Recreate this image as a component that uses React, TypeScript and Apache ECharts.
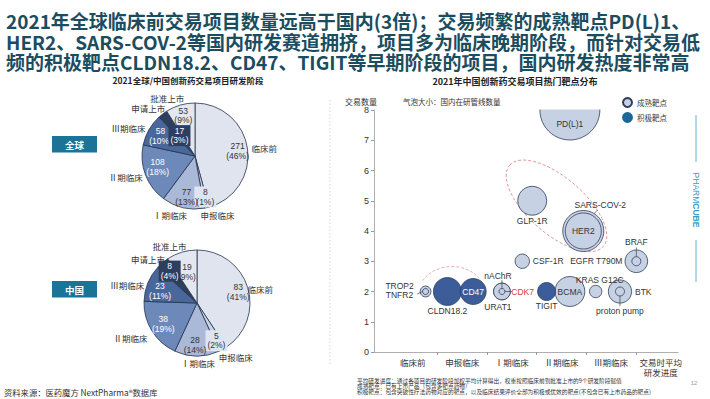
import React, { useEffect, useRef } from 'react';
import * as echarts from 'echarts';

// ---------------- data ----------------
const stageNames = ['临床前', '申报临床', 'Ⅰ期临床', 'Ⅱ期临床', 'Ⅲ期临床', '申请上市', '批准上市'];
const globalStageDeals = [271, 8, 77, 108, 58, 17, 53];
const chinaStageDeals = [83, 5, 28, 38, 23, 8, 19];

const progressLabels = ['临床前', '申报临床', 'Ⅰ期临床', 'Ⅱ期临床', 'Ⅲ期临床', '交易时平均\n研发进度'];
const progressLabelValues = [1, 2, 3, 4, 5, 6];
const progressTickValues = [1.5, 2.5, 3.5, 4.5, 5.5];

const matureTargets = ['PD(L)1', 'GLP-1R', 'SARS-COV-2', 'HER2', 'CSF-1R', 'BRAF', 'EGFR T790M', 'TROP2', 'TNFR2', 'nAChR', 'URAT1', 'CDK7', 'BCMA', 'KRAS G12C', 'BTK', 'proton pump'];
const matureProgress = [4.17, 3.41, 4.44, 4.44, 3.21, 5.51, 5.51, 1.26, 1.26, 2.8, 2.8, 2.8, 4.17, 4.69, 5.18, 5.18];
const matureDeals = [8, 5, 4, 4, 3, 3, 3, 2, 2, 2, 2, 2, 2, 2, 2, 2];
const maturePipelines = [400, 93, 187, 144, 23, 57, 9, 13, 4, 31, 31, 4, 100, 17, 60, 9];

const activeTargets = ['CLDN18.2', 'CD47', 'TIGIT'];
const activeProgress = [1.7, 2.22, 3.7];
const activeDeals = [2, 2, 2];
const activePipelines = [87, 75, 36];

// ---------------- styles ----------------
const FONT = 'Arial, "Liberation Sans", "Noto Sans CJK SC", sans-serif';
const CJK = '"Noto Sans CJK SC", "Noto Sans", sans-serif';
const stageColors = ['#dfe4ee', '#c8d2e5', '#aab9d7', '#6c89b9', '#4a679b', '#2d3e5f', '#e3e8f0'];
const valueTextColors = ['#333', '#333', '#333', '#fff', '#fff', '#fff', '#333'];
const valueBoxColors: (string | undefined)[] = [undefined, '#dfe5ef', undefined, undefined, undefined, '#2d3e5f', undefined];
const globalNameShift = [[0, 0], [-7, 3.5], [5, 3.5], [1, 0.5], [0, 0], [5, -2.5], [5, -3]];
const chinaNameShift = [[-4, 2], [-6, 4], [1, 3], [-1, 5], [0, 3], [5, -1], [6, -2]];
const globalValueShift = [[1, 0.5], [1, 0], [1, 0], [2, -4], [2, 1], [10, 13], [0, 0]];
const chinaValueShift = [[1, 1], [-1, 1], [-2, 0], [2, -1], [2, 4], [0, 0], [2, 9]];

const bubbleLabelStyle: Record<string, any> = {
  'PD(L)1': { position: 'inside', offset: [0, 14] },
  'GLP-1R': { position: 'bottom', distance: 1 },
  'SARS-COV-2': { position: 'top', distance: 1, offset: [17, 0] },
  'HER2': { position: 'inside' },
  'CSF-1R': { position: 'right', distance: 3 },
  'BRAF': { position: 'top', distance: 3 },
  'EGFR T790M': { position: 'left', distance: 9 },
  'TROP2': { position: 'left', distance: 6, offset: [0, -6] },
  'TNFR2': { position: 'left', distance: 9, offset: [0, 3] },
  'nAChR': { position: 'top', distance: 2, offset: [-4, 0] },
  'URAT1': { position: 'bottom', distance: 2, offset: [-4, 0] },
  'CDK7': { position: 'right', distance: 6, color: '#d83b3b' },
  'BCMA': { position: 'inside' },
  'KRAS G12C': { position: 'top', distance: 1, offset: [4, 0] },
  'BTK': { position: 'right', distance: 3 },
  'proton pump': { position: 'bottom', distance: 10 },
  'CLDN18.2': { position: 'bottom', distance: 1 },
  'CD47': { position: 'inside', color: '#fff' },
  'TIGIT': { position: 'bottom', distance: 1 },
};

const sizeOf = (p: number) => Math.sqrt(p) * 3;

function midAngles(values: number[]) {
  const total = values.reduce((s, v) => s + v, 0);
  let cum = 0;
  return values.map((v) => {
    const m = ((cum + v / 2) / total) * Math.PI * 2;
    cum += v;
    return m;
  });
}

function pieSeries(values: number[], center: [number, number], nameShift: number[][], valueShift: number[][]) {
  const angles = midAngles(values);
  const [cx, cy] = center;
  const base = {
    type: 'pie',
    center,
    radius: [0, 53],
    startAngle: 90,
    clockwise: true,
    avoidLabelOverlap: false,
    silent: true,
    emphasis: { disabled: true },
  };
  return [
    {
      ...base,
      z: 2,
      itemStyle: { borderColor: '#24324c', borderWidth: 0.8 },
      label: { show: true, position: 'outside', formatter: '{b}', fontSize: 8.5, color: '#333', fontFamily: CJK },
      labelLine: { show: false, length: 0, length2: 0 },
      labelLayout: (p: any) => {
        const t = angles[p.dataIndex];
        const s = Math.sin(t);
        const sh = nameShift[p.dataIndex];
        return {
          x: cx + 57 * s + sh[0],
          y: cy - 57 * Math.cos(t) + sh[1],
          align: s > 0.05 ? 'left' : s < -0.05 ? 'right' : 'center',
          verticalAlign: 'middle',
        };
      },
      data: stageNames.map((n, i) => ({ name: n, value: values[i], itemStyle: { color: stageColors[i] } })),
    },
    {
      ...base,
      z: 3,
      itemStyle: { color: 'rgba(0,0,0,0)', borderWidth: 0 },
      label: {
        show: true,
        position: 'inside',
        fontSize: 8.5,
        lineHeight: 9.5,
        fontFamily: FONT,
        formatter: (p: any) => `${p.value}\n(${Math.round(p.percent)}%)`,
      },
      labelLine: { show: false },
      labelLayout: (p: any) => {
        const t = angles[p.dataIndex];
        const sh = valueShift[p.dataIndex];
        return {
          x: cx + 42 * Math.sin(t) + sh[0],
          y: cy - 42 * Math.cos(t) + sh[1],
          align: 'center',
          verticalAlign: 'middle',
        };
      },
      data: stageNames.map((n, i) => ({
        name: n,
        value: values[i],
        itemStyle: { color: 'rgba(0,0,0,0)' },
        label: {
          color: valueTextColors[i],
          backgroundColor: valueBoxColors[i] || 'transparent',
          padding: valueBoxColors[i] ? [1, 2] : 0,
        },
      })),
    },
  ];
}

function bubbleData(names: string[], prog: number[], deals: number[], pipes: number[]) {
  return names.map((n, i) => ({
    name: n,
    value: [prog[i], deals[i], pipes[i]],
    label: { show: true, ...bubbleLabelStyle[n] },
  }));
}

function baseOption(): any {
  const bubbleLabel = { fontSize: 8.5, color: '#333', fontFamily: FONT, formatter: '{b}' };
  return {
    animation: false,
    backgroundColor: '#fff',
    textStyle: { fontFamily: FONT },
    grid: { left: 374, right: 32, top: 110, bottom: 47, containLabel: false },
    legend: {
      left: 617,
      top: 92,
      orient: 'vertical',
      itemWidth: 9,
      itemHeight: 9,
      itemGap: 4,
      icon: 'circle',
      textStyle: { fontSize: 7.5, color: '#333', fontFamily: CJK },
      data: [
        { name: '成熟靶点' },
        { name: '积极靶点', itemStyle: { color: '#1b6898', borderColor: '#1b6898' } },
      ],
    },
    xAxis: {
      type: 'value',
      min: 0.22,
      max: 6.35,
      splitLine: { show: false },
      axisLine: { lineStyle: { color: '#9a9a9a', width: 0.8 } },
      axisTick: { show: true, length: 3, customValues: progressTickValues, lineStyle: { color: '#9a9a9a' } },
      axisLabel: {
        customValues: progressLabelValues,
        formatter: (v: number) => progressLabels[progressLabelValues.indexOf(Math.round(v))] || '',
        fontSize: 8.5,
        lineHeight: 10,
        color: '#333',
        fontFamily: CJK,
        margin: 5,
      },
    },
    yAxis: {
      type: 'value',
      min: 0,
      max: 8,
      interval: 1,
      name: '交易数量',
      nameLocation: 'end',
      nameGap: 5,
      nameTextStyle: { fontSize: 8, color: '#333', fontFamily: CJK, align: 'right', padding: [0, -3, 0, 0] },
      splitLine: { show: false },
      axisLine: { show: true, lineStyle: { color: '#9a9a9a', width: 0.8 } },
      axisTick: { show: true, length: 3, lineStyle: { color: '#9a9a9a' } },
      axisLabel: { fontSize: 9, color: '#333', margin: 5 },
    },
    series: [
      ...pieSeries(globalStageDeals, [195, 156], globalNameShift, globalValueShift),
      ...pieSeries(chinaStageDeals, [197, 303], chinaNameShift, chinaValueShift),
      {
        type: 'scatter',
        name: '成熟靶点',
        z: 3,
        symbolSize: (v: number[]) => sizeOf(v[2]),
        itemStyle: { color: '#c7d1e4', borderColor: '#2e3d58', borderWidth: 0.8, opacity: 1 },
        label: bubbleLabel,
        emphasis: { disabled: true },
        data: bubbleData(matureTargets, matureProgress, matureDeals, maturePipelines),
      },
      {
        type: 'scatter',
        name: '积极靶点',
        z: 4,
        symbolSize: (v: number[]) => sizeOf(v[2]),
        itemStyle: { color: '#3c5d99', borderColor: '#2a3f66', borderWidth: 0.8, opacity: 1 },
        label: bubbleLabel,
        emphasis: { disabled: true },
        data: bubbleData(activeTargets, activeProgress, activeDeals, activePipelines),
      },
    ],
  };
}

// annotation anchors in data space (progress, deals)
const hotZoneA = [3.9, 4.83];
const hotZoneB = [1.79, 1.95];

function buildGraphics(chart: any) {
  const px = (v: number[]) => chart.convertToPixel({ gridIndex: 0 }, v) as number[];
  const allNames = [...matureTargets, ...activeTargets];
  const allProg = [...matureProgress, ...activeProgress];
  const allDeals = [...matureDeals, ...activeDeals];
  const allPipes = [...maturePipelines, ...activePipelines];
  const at = (n: string) => {
    const i = allNames.indexOf(n);
    return px([allProg[i], allDeals[i]]);
  };
  const rad = (n: string) => sizeOf(allPipes[allNames.indexOf(n)]) / 2;
  const lineStyle = { stroke: '#444', lineWidth: 0.7 };
  const seg = (x1: number, y1: number, x2: number, y2: number) => ({
    type: 'line', silent: true, z: 10, shape: { x1, y1, x2, y2 }, style: lineStyle,
  });

  const els: any[] = [];
  // cover the part of bubbles lying above the plot area (clip at top of grid)
  const gridTop = px([1, 8])[1];
  const pd = at('PD(L)1');
  const pr = rad('PD(L)1') + 2;
  els.push({ type: 'rect', silent: true, z: 8, shape: { x: pd[0] - pr, y: gridTop - 40, width: pr * 2, height: 39.6 }, style: { fill: '#fff' } });

  const titleLines = [
    '2021年全球临床前交易项目数量远高于国内(3倍)；交易频繁的成熟靶点PD(L)1、',
    'HER2、SARS-COV-2等国内研发赛道拥挤，项目多为临床晚期阶段，而针对交易低',
    '频的积极靶点CLDN18.2、CD47、TIGIT等早期阶段的项目，国内研发热度非常高',
  ];
  titleLines.forEach((t, i) => {
    els.push({
      type: 'text', x: 6, y: 20.5 + i * 20.5, silent: true, z: 20,
      style: { text: t, fontSize: 19, fontWeight: 'bold', fill: '#1b4d5f', fontFamily: CJK, verticalAlign: 'middle', align: 'left' },
    });
  });
  els.push({ type: 'text', x: 188, y: 80, z: 20, style: { text: '2021全球/中国创新药交易项目研发阶段', fontSize: 8.5, fontWeight: 'bold', fill: '#222', fontFamily: CJK, align: 'center', verticalAlign: 'middle' } });
  els.push({ type: 'text', x: 515, y: 81, z: 20, style: { text: '2021年中国创新药交易项目热门靶点分布', fontSize: 9, fontWeight: 'bold', fill: '#222', fontFamily: CJK, align: 'center', verticalAlign: 'middle' } });
  // region tags
  [['全球', 136], ['中国', 281]].forEach(([t, y]) => {
    els.push({ type: 'rect', shape: { x: 52, y: y as number, width: 45, height: 16.5 }, style: { fill: '#1b7398' } });
    els.push({ type: 'text', x: 74.5, y: (y as number) + 8.5, z: 20, style: { text: t, fontSize: 9.5, fontWeight: 'bold', fill: '#fff', fontFamily: CJK, align: 'center', verticalAlign: 'middle' } });
  });
  // separator
  els.push({ type: 'line', shape: { x1: 330, y1: 100, x2: 330, y2: 366 }, style: { stroke: '#cfcfcf', lineWidth: 0.8, lineDash: [1.5, 2] } });
  // source
  els.push({ type: 'text', x: 4, y: 392, style: { text: '资料来源：医药魔方 NextPharma®数据库', fontSize: 8.3, fill: '#333', fontFamily: CJK, verticalAlign: 'middle' } });
  // bubble note
  els.push({ type: 'text', x: 403, y: 101, style: { text: '气泡大小：国内在研管线数量', fontSize: 7.5, fill: '#333', fontFamily: CJK, verticalAlign: 'middle' } });
  // footnotes
  [
    '平均研发进度：通过各项目的研发阶段加权平均计算得出，权重按照临床前到批准上市的9个研发阶段赋值',
    '成熟靶点：已有上市产品（包含多靶点药物）',
    '积极靶点：包含突破性疗法药物对应的靶点，以及临床结果评价全部为积极或优效的靶点(不包含已有上市药品的靶点)',
  ].forEach((t, i) => {
    els.push({ type: 'text', x: 357, y: 380 + i * 5.8, style: { text: t, fontSize: 5.7, fill: '#333', fontFamily: CJK, verticalAlign: 'middle' } });
  });
  els.push({ type: 'text', x: 694, y: 383, style: { text: '12', fontSize: 6, fill: '#999', fontFamily: FONT, align: 'center', verticalAlign: 'middle' } });
  // brand
  els.push({ type: 'line', shape: { x1: 696, y1: 115, x2: 696, y2: 162 }, style: { stroke: '#3b9ec6', lineWidth: 0.8 } });
  els.push({ type: 'line', shape: { x1: 696, y1: 240, x2: 696, y2: 282 }, style: { stroke: '#3b9ec6', lineWidth: 0.8 } });
  els.push({
    type: 'text', x: 696, y: 200, rotation: -Math.PI / 2,
    style: {
      text: '{a|PHARM}{b|CUBE}', align: 'center', verticalAlign: 'middle',
      rich: {
        a: { fontSize: 8.5, fill: '#3b9ec6', fontFamily: FONT },
        b: { fontSize: 8.5, fill: '#3b9ec6', fontWeight: 'bold', fontFamily: FONT },
      },
    },
  });

  // hot zones
  const ca = px(hotZoneA);
  els.push({ type: 'ellipse', x: ca[0], y: ca[1], rotation: -41 * Math.PI / 180, z: 0, silent: true, shape: { cx: 0, cy: 0, rx: 62, ry: 28 }, style: { fill: 'none', stroke: '#d98888', lineWidth: 0.8, lineDash: [3, 2] } });
  const cb = px(hotZoneB);
  els.push({ type: 'arc', x: cb[0], y: cb[1], scaleY: 0.8, z: 0, silent: true, shape: { cx: 0, cy: 0, r: 33, startAngle: 208 * Math.PI / 180, endAngle: 325 * Math.PI / 180, clockwise: true }, style: { fill: 'none', stroke: '#d98888', lineWidth: 0.8, lineDash: [3, 2] } });

  // leader lines
  let p = at('BRAF');
  els.push(seg(p[0], p[1] - rad('EGFR T790M'), p[0], p[1] - rad('BRAF') - 2.5));
  p = at('BTK');
  els.push(seg(p[0], p[1] + rad('proton pump'), p[0], p[1] + rad('BTK') + 3));
  p = at('nAChR');
  els.push(seg(p[0], p[1] - rad('CDK7'), p[0], p[1] - rad('nAChR') - 3));
  els.push(seg(p[0] + rad('CDK7'), p[1], p[0] + rad('nAChR') + 1.5, p[1]));
  p = at('TNFR2');
  els.push(seg(p[0] - rad('TNFR2'), p[1], p[0] - rad('TROP2') - 3, p[1] + 2.5));
  p = at('SARS-COV-2');
  const a = 58 * Math.PI / 180;
  const r = rad('SARS-COV-2');
  els.push(seg(p[0] + r * Math.cos(a), p[1] - r * Math.sin(a), p[0] + (r + 4) * Math.cos(a) + 1, p[1] - (r + 4) * Math.sin(a)));
  return els;
}

export default function App() {
  const ref = useRef<HTMLDivElement>(null);
  useEffect(() => {
    const chart = echarts.init(ref.current!, undefined, { renderer: 'svg', width: 710, height: 399 });
    chart.setOption(baseOption());
    chart.setOption({ graphic: buildGraphics(chart) });
    return () => chart.dispose();
  }, []);
  return <div ref={ref} style={{ position: 'fixed', left: 0, top: 0, width: 710, height: 399, background: '#fff' }} />;
}
